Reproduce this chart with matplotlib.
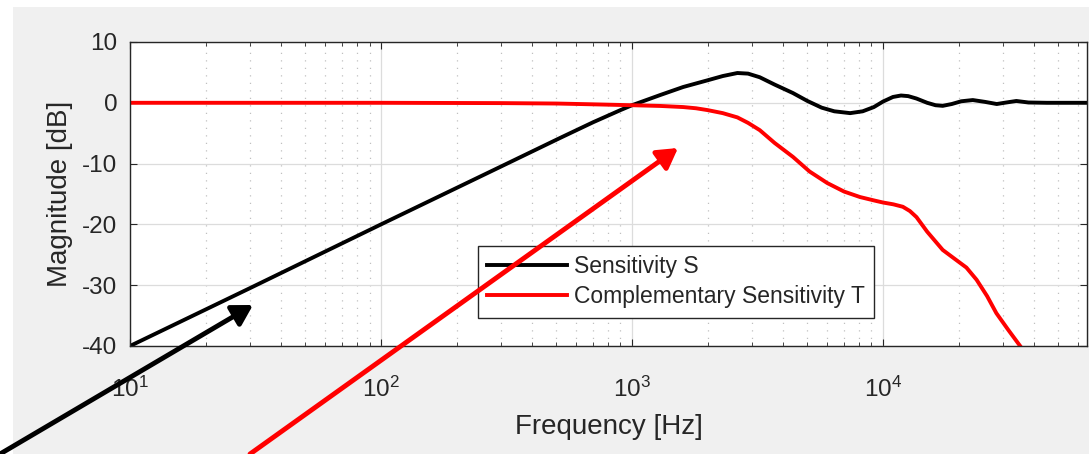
import numpy as np
import matplotlib.pyplot as plt
from matplotlib.patches import Rectangle, FancyArrowPatch

plt.rcParams['font.family'] = ['Liberation Sans', 'DejaVu Sans']
plt.rcParams['mathtext.fontset'] = 'custom'
plt.rcParams['mathtext.rm'] = 'Liberation Sans'
plt.rcParams['mathtext.it'] = 'Liberation Sans'
plt.rcParams['axes.unicode_minus'] = False

# data
freq_s = [10, 30, 100, 300, 516, 700, 900, 1000, 1300, 1600, 2000, 2300, 2630,
          2900, 3230, 3700, 4380, 5000, 5700, 6400, 7400, 8300, 9200, 10000,
          10960, 11800, 12600, 13600, 15000, 16200, 17300, 18800, 20500, 22800,
          25500, 28400, 31000, 34000, 38000, 45000, 65000]
mag_s = [-40, -30.5, -20, -10.5, -5.8, -3.2, -1.2, -0.4, 1.3, 2.6, 3.7, 4.4, 4.9,
         4.8, 4.2, 3.0, 1.6, 0.3, -0.8, -1.4, -1.7, -1.4, -0.7, 0.2,
         0.96, 1.2, 1.1, 0.7, 0.0, -0.4, -0.5, -0.2, 0.25, 0.45,
         0.15, -0.2, 0.05, 0.3, 0.05, 0.0, 0.0]
freq_t = [10, 100, 300, 500, 700, 1000, 1300, 1600, 1800, 2000, 2300, 2630, 2900,
          3230, 3700, 4380, 5100, 6000, 7000, 8100, 9300, 10000, 11000, 12000,
          12800, 13600, 15000, 17300, 19500, 21500, 23600, 26000, 28300,
          31500, 35200]
mag_t = [0, 0, -0.05, -0.12, -0.25, -0.4, -0.52, -0.7, -0.9, -1.2, -1.7, -2.4, -3.3,
         -4.5, -6.6, -8.9, -11.3, -13.2, -14.6, -15.5, -16.1, -16.4, -16.7, -17.1,
         -17.8, -18.8, -21.2, -24.2, -25.8, -27.1, -29.1, -31.8, -34.6,
         -37.3, -40]

fig = plt.figure(figsize=(10.89, 4.54), dpi=100, facecolor='white')
fig.add_artist(Rectangle((13 / 1089, 0), 1 - 13 / 1089, 1 - 7 / 454,
                         transform=fig.transFigure, facecolor='#f0f0f0',
                         edgecolor='none', zorder=0))

ax = fig.add_axes([130 / 1089, 108 / 454, 957 / 1089, 304 / 454])
ax.set_facecolor('white')
ax.semilogx(freq_s, mag_s, color='black', lw=2.8, label='Sensitivity S')
ax.semilogx(freq_t, mag_t, color='#ff0000', lw=2.8,
            label='Complementary Sensitivity T')
ax.set_xlim(10, 65000)
ax.set_ylim(-40, 10)
ax.set_yticks([-40, -30, -20, -10, 0, 10])

ax.grid(True, which='major', color='#dcdcdc', lw=0.9)
ax.grid(True, which='minor', axis='x', color='#c0c0c0', ls=(0, (1, 5)), lw=0.9)

for s in ax.spines.values():
    s.set_color('#262626')
    s.set_linewidth(1.0)
ax.tick_params(which='both', direction='in', top=True, right=True,
               colors='#262626', labelcolor='#262626', labelsize=17.5)
ax.tick_params(which='major', length=5)
ax.tick_params(which='minor', length=3)
ax.tick_params(axis='x', pad=22)
ax.tick_params(axis='y', pad=9)

ax.set_xlabel('Frequency [Hz]', fontsize=20, color='#262626', labelpad=9)
ax.set_ylabel('Magnitude [dB]', fontsize=20, color='#262626', labelpad=7)

leg = ax.legend(loc='upper left', bbox_to_anchor=(0.3636, 0.329),
                borderaxespad=0, fancybox=False, edgecolor='#262626',
                fontsize=16.5, handlelength=3.5, handletextpad=0.3,
                labelspacing=0.32, borderpad=0.4, framealpha=1)
leg.get_frame().set_linewidth(1.0)
for t in leg.get_texts():
    t.set_color('#262626')

# arrows in figure pixels
fig.add_artist(FancyArrowPatch((0, 0), (253, 149), transform=None,
                               arrowstyle='-|>,head_length=12,head_width=7',
                               color='black', lw=3.5, shrinkA=0, shrinkB=0,
                               zorder=10))
fig.add_artist(FancyArrowPatch((250, 0), (678, 306), transform=None,
                               arrowstyle='-|>,head_length=12,head_width=7',
                               color='#ff0000', lw=3.5, shrinkA=0, shrinkB=0,
                               zorder=10))

fig.savefig('out.png', dpi=100, facecolor=fig.get_facecolor())
